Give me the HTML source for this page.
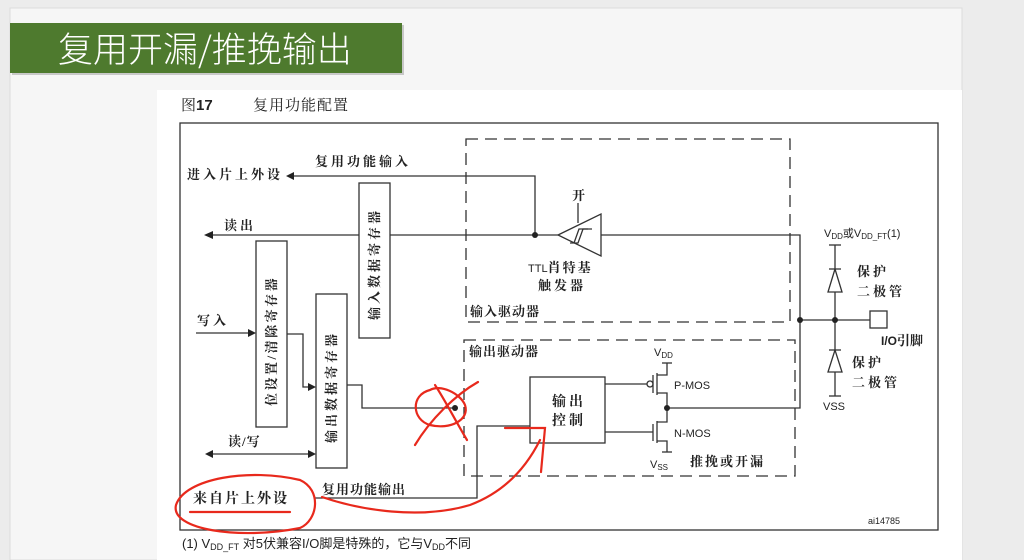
<!DOCTYPE html>
<html><head><meta charset="utf-8"><style>
html,body{margin:0;padding:0;background:#ececec;}
body{width:1024px;height:560px;position:relative;overflow:hidden;font-family:"Liberation Sans","Noto Sans CJK SC",sans-serif;}
</style></head><body>
<svg width="1024" height="560" viewBox="0 0 1024 560" xmlns="http://www.w3.org/2000/svg" style="position:absolute;left:0;top:0">
<rect x="0" y="0" width="1024" height="560" fill="#ececec"/>
<rect x="10" y="8" width="952" height="552" fill="#f6f6f6" stroke="#dcdcdc"/>
<rect x="12" y="25" width="392" height="50" fill="#9a9a9a" opacity="0.5"/>
<rect x="10" y="23" width="392" height="50" fill="#4e7a2e"/>
<text x="58" y="62" font-size="35" fill="#fff" font-family="'Noto Sans CJK SC',sans-serif" font-weight="300">复用开漏/推挽输出</text>
<rect x="157" y="90" width="805" height="470" fill="#fff"/>
<g font-family="'Liberation Sans','Noto Serif CJK SC',serif" fill="#222">
<text x="181" y="110" font-size="15">图<tspan font-weight="bold" font-family="Liberation Sans">17</tspan></text>
<text x="253" y="110" font-size="15" letter-spacing="1">复用功能配置</text>
</g>
<g fill="none" stroke="#333" stroke-width="1.3">
<rect x="180" y="123" width="758" height="407"/>
<rect x="466" y="139" width="324" height="183" stroke-dasharray="12,7"/>
<rect x="464" y="340" width="331" height="136" stroke-dasharray="12,7"/>
<polyline points="292,176 535,176 535,235"/>
<line x1="212" y1="235" x2="558" y2="235"/>
<rect x="359" y="183" width="31" height="155" fill="#fff"/>
<polygon points="558,235 601,214 601,256" fill="#fff"/>
<polyline points="570,243 578,243 583,229 592,229"/>
<polyline points="574,243 579,229 588,229"/>
<line x1="578" y1="203" x2="578" y2="223"/>
<polyline points="601,235 800,235 800,408 667,408"/>
<rect x="256" y="241" width="31" height="186"/>
<line x1="196" y1="333" x2="250" y2="333"/>
<polyline points="287,334 303,334 303,387 310,387"/>
<rect x="316" y="294" width="31" height="174"/>
<polyline points="347,385 362,385 362,408 455,408"/>
<line x1="211" y1="454" x2="310" y2="454"/>
<polyline points="315,498 477,498 477,426 530,426"/>
<rect x="530" y="377" width="75" height="66"/>
<line x1="605" y1="384" x2="647" y2="384"/>
<circle cx="650" cy="384" r="3" fill="#fff"/>
<line x1="653" y1="375" x2="653" y2="393"/>
<line x1="657" y1="373" x2="657" y2="395"/>
<polyline points="667,363 667,375 657,375"/>
<polyline points="657,393 667,393 667,422 657,422"/>
<line x1="662" y1="363" x2="672" y2="363"/>
<line x1="605" y1="432" x2="653" y2="432"/>
<line x1="653" y1="424" x2="653" y2="441"/>
<line x1="657" y1="421" x2="657" y2="443"/>
<polyline points="657,441 667,441 667,452"/>
<line x1="662" y1="452" x2="672" y2="452"/>
<line x1="800" y1="320" x2="870" y2="320"/>
<rect x="870" y="311" width="17" height="17"/>
<line x1="835" y1="245" x2="835" y2="396"/>
<line x1="829" y1="245" x2="841" y2="245"/>
<line x1="829" y1="269" x2="841" y2="269"/>
<polygon points="835,269 828,292 842,292" fill="#fff"/>
<line x1="829" y1="350" x2="841" y2="350"/>
<polygon points="835,350 828,372 842,372" fill="#fff"/>
<line x1="829" y1="396" x2="841" y2="396"/>
</g>
<g fill="#222">
<polygon points="286,176 294,172 294,180"/>
<polygon points="204,235 213,231 213,239"/>
<polygon points="256,333 248,329 248,337"/>
<polygon points="316,387 308,383 308,391"/>
<polygon points="205,454 213,450 213,458"/>
<polygon points="316,454 308,450 308,458"/>
<circle cx="535" cy="235" r="3"/>
<circle cx="455" cy="408" r="3"/>
<circle cx="667" cy="408" r="3"/>
<circle cx="800" cy="320" r="3"/>
<circle cx="835" cy="320" r="3"/>
</g>
<g font-family="'Liberation Serif','Noto Serif CJK SC',serif" font-size="13" fill="#222" letter-spacing="3" font-weight="bold">
<text x="187" y="179">进入片上外设</text>
<text x="315" y="166">复用功能输入</text>
<text x="224" y="230">读出</text>
<text x="197" y="325">写入</text>
<text x="228" y="446" letter-spacing="1">读/写</text>
<text x="193" y="503" font-size="14" letter-spacing="2">来自片上外设</text>
<text x="322" y="494" letter-spacing="1">复用功能输出</text>
<text x="572" y="200">开</text>
<text x="528" y="272" letter-spacing="2"><tspan font-family="Liberation Sans" font-size="11" letter-spacing="0" font-weight="normal">TTL</tspan>肖特基</text>
<text x="538" y="290">触发器</text>
<text x="470" y="316" letter-spacing="1">输入驱动器</text>
<text x="469" y="356" letter-spacing="1">输出驱动器</text>
<text x="552" y="406" font-size="14">输出</text>
<text x="552" y="425" font-size="14">控制</text>
<text x="690" y="466" letter-spacing="2">推挽或开漏</text>
<text x="857" y="276">保护</text>
<text x="857" y="296">二极管</text>
<text x="852" y="367">保护</text>
<text x="852" y="387">二极管</text>
<text x="881" y="345" letter-spacing="0"><tspan font-family="Liberation Sans" font-size="12">I/O</tspan>引脚</text>
</g>
<g font-family="'Liberation Sans','Noto Sans CJK SC',sans-serif" font-size="11" fill="#222">
<text x="824" y="237">V<tspan font-size="8" dy="2">DD</tspan><tspan dy="-2">或V</tspan><tspan font-size="8" dy="2">DD_FT</tspan><tspan dy="-2">(1)</tspan></text>
<text x="654" y="356">V<tspan font-size="8" dy="2">DD</tspan></text>
<text x="650" y="468">V<tspan font-size="8" dy="2">SS</tspan></text>
<text x="674" y="389">P-MOS</text>
<text x="674" y="437">N-MOS</text>
<text x="823" y="410">VSS</text>
<text x="868" y="524" font-size="9">ai14785</text>
</g>
<text x="182" y="548" font-size="13" fill="#222" font-family="'Liberation Sans','Noto Sans CJK SC',sans-serif">(1) V<tspan font-size="9" dy="2">DD_FT</tspan><tspan dy="-2"> 对5伏兼容I/O脚是特殊的，它与V</tspan><tspan font-size="9" dy="2">DD</tspan><tspan dy="-2">不同</tspan></text>
<g font-family="'Liberation Serif','Noto Serif CJK SC',serif" font-size="13" fill="#222" font-weight="bold" letter-spacing="3">
<text transform="translate(379,320) rotate(-90)">输入数据寄存器</text>
<text transform="translate(276,406) rotate(-90)" letter-spacing="2.5">位设置/清除寄存器</text>
<text transform="translate(336,443) rotate(-90)">输出数据寄存器</text>
</g>
<g fill="none" stroke="#e8291c" stroke-width="2.2" stroke-linecap="round">
<path d="M300,480 C250,468 185,478 176,505 C170,530 240,540 300,528 C318,520 322,490 300,480"/>
<line x1="190" y1="512" x2="290" y2="512"/>
<path d="M322,497 C360,510 420,520 470,505 C510,490 530,460 540,440"/>
<path d="M505,428 L545,428 L541,472"/>
<path d="M415,445 C430,420 455,395 478,382"/>
<path d="M435,385 C445,400 455,420 467,440"/>
<path d="M430,390 C410,395 412,420 430,425 C450,430 470,420 465,405 C460,393 440,384 430,390"/>
</g>
</svg>
</body></html>
